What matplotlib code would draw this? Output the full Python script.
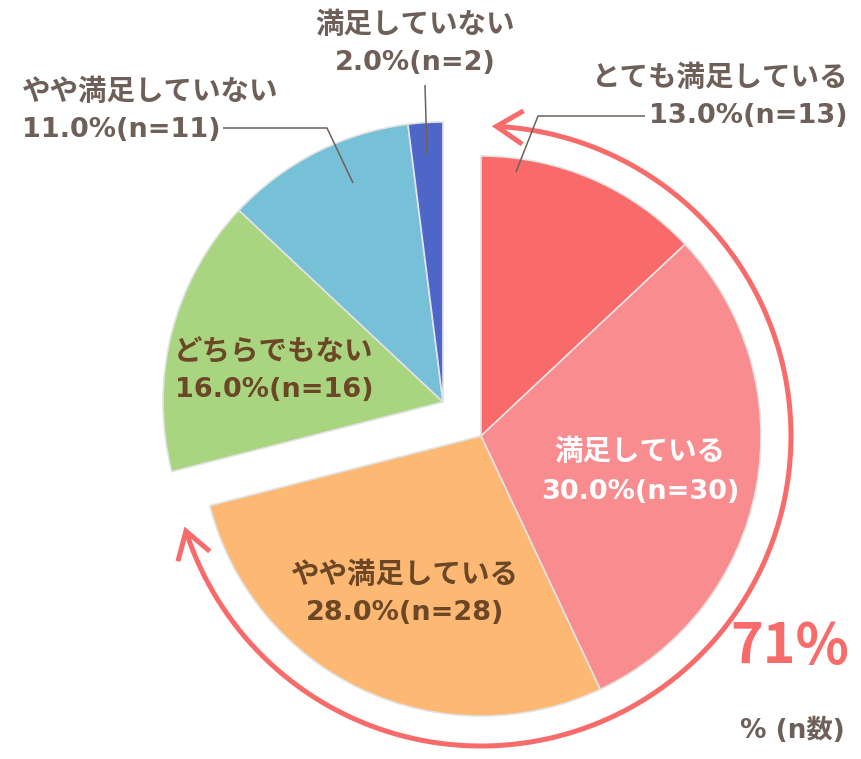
import matplotlib as mpl

mpl.use("Agg")
import matplotlib.pyplot as plt
import numpy as np
from matplotlib.patches import FancyArrowPatch
from matplotlib.path import Path

plt.rcParams["font.family"] = ["Noto Sans CJK JP", "DejaVu Sans"]
LATIN = ["DejaVu Sans", "Noto Sans CJK JP"]

# data
LABELS = ["とても満足している", "満足している", "やや満足している",
          "どちらでもない", "やや満足していない", "満足していない"]
PCT = [13.0, 30.0, 28.0, 16.0, 11.0, 2.0]
COUNTS = [13, 30, 28, 16, 11, 2]
COLORS = ["#F96B6B", "#F98C8F", "#FDB973", "#A9D581", "#77C1D8", "#4E66C8"]
TOP_SHARE = "71%"
UNIT_NOTE = "% (n数)"

INK = "#6E6058"
DARK = "#6B4726"
ACCENT = "#F76B6B"
W, H = 862, 759


def py(y):
    # pixel row -> data y
    return H - y


fig = plt.figure(figsize=(W / 100, H / 100), dpi=100)
ax = fig.add_axes([0, 0, 1, 1])

wp = dict(edgecolor="#E2E2E2", linewidth=1.2)
g1 = np.array(PCT[:3]) / 100
g2 = np.array(PCT[3:]) / 100
c1 = (481, py(436))
c2 = (443, py(402))
ax.pie(g1, colors=COLORS[:3], startangle=90, counterclock=False, normalize=False,
       center=c1, radius=280, wedgeprops=wp)
ax.pie(g2, colors=COLORS[3:], startangle=90 - 360 * g1.sum(), counterclock=False,
       normalize=False, center=c2, radius=280, wedgeprops=wp)

# arc with arrow heads around the satisfied group
R = 310
t = np.deg2rad(np.linspace(90 - 360 * g1.sum() + 2.6, 88.0, 300))
arc = Path(np.column_stack([c1[0] + R * np.cos(t), c1[1] + R * np.sin(t)]))
ax.add_patch(FancyArrowPatch(path=arc, arrowstyle="<->,head_length=0.95,head_width=0.6",
                             mutation_scale=20, color=ACCENT, lw=3.6,
                             capstyle="butt", joinstyle="miter"))


def label(x, y, i, color, ha="center", gap=38):
    ax.text(x, py(y), LABELS[i], color=color, fontsize=20.5, fontweight="bold",
            ha=ha, va="center")
    ax.text(x, py(y + gap), f"{PCT[i]:.1f}%(n={COUNTS[i]})", color=color,
            fontsize=19.5, family=LATIN, fontweight="bold", ha=ha, va="center")


label(640, 452, 1, "white", gap=40)
label(405, 575, 2, DARK)
label(274, 352, 3, DARK)
label(848, 78, 0, INK, ha="right")
label(22, 92, 4, INK, ha="left")
label(415, 25, 5, INK)

lk = dict(color=INK, lw=1.1, solid_capstyle="butt")
ax.plot([645, 538, 516], [py(116), py(116), py(172)], **lk)
ax.plot([223, 327, 353], [py(128), py(128), py(183)], **lk)
ax.plot([425, 427], [py(85), py(155)], **lk)

ax.text(790, py(647), TOP_SHARE, color=ACCENT, fontsize=40, fontweight="bold",
        ha="center", va="center")
ax.text(792, py(731), UNIT_NOTE, color=INK, fontsize=19, family=LATIN,
        fontweight="bold", ha="center", va="center")

ax.set_xlim(0, W)
ax.set_ylim(0, H)
ax.set_aspect("equal")
ax.axis("off")
fig.savefig("out.png", dpi=100, facecolor="white")
